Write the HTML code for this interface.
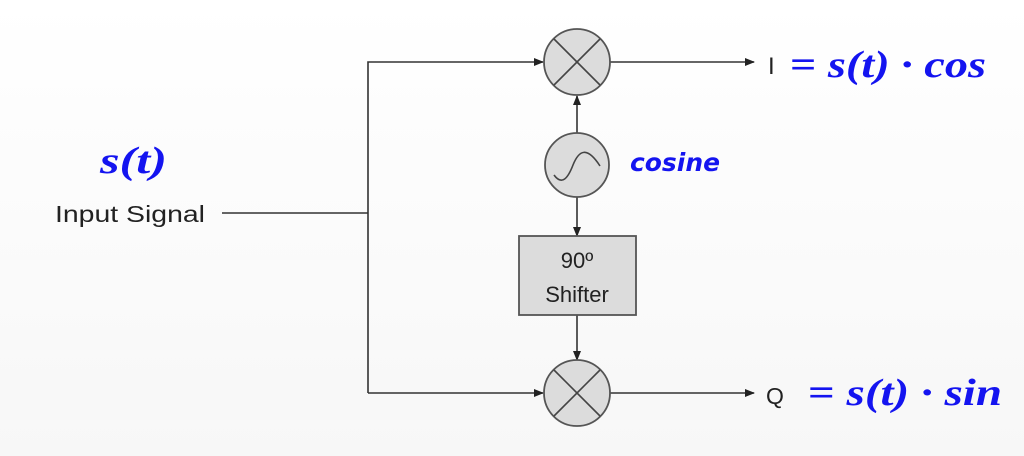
<!DOCTYPE html>
<html><head><meta charset="utf-8"><style>
html,body{margin:0;padding:0;background:#fff;}
svg{display:block}
.m{font-family:"Liberation Serif",serif;font-weight:bold;font-style:italic;fill:#1414f0;}
.l{font-family:"Liberation Sans",sans-serif;fill:#222;}
</style></head><body>
<svg width="1024" height="456" viewBox="0 0 1024 456" xmlns="http://www.w3.org/2000/svg">
<defs><linearGradient id="bg" x1="0" y1="0" x2="0" y2="1"><stop offset="0" stop-color="#fff"/><stop offset="1" stop-color="#f7f7f7"/></linearGradient>
<marker id="a" markerWidth="10" markerHeight="10" refX="9" refY="5" orient="auto" markerUnits="userSpaceOnUse"><path d="M0,1 L10,5 L0,9 Z" fill="#222"/></marker></defs>
<rect width="1024" height="456" fill="url(#bg)"/>
<g stroke="#333" stroke-width="1.6" fill="none">
<line x1="222" y1="213" x2="368" y2="213"/>
<polyline points="368,393 368,62 543,62" marker-end="url(#a)"/>
<line x1="368" y1="393" x2="543" y2="393" marker-end="url(#a)"/>
<line x1="610" y1="62" x2="754" y2="62" marker-end="url(#a)"/>
<line x1="610" y1="393" x2="754" y2="393" marker-end="url(#a)"/>
<line x1="577" y1="133" x2="577" y2="96" marker-end="url(#a)"/>
<line x1="577" y1="197" x2="577" y2="236" marker-end="url(#a)"/>
<line x1="577" y1="315" x2="577" y2="360" marker-end="url(#a)"/>
</g>
<g stroke="#555" stroke-width="1.8" fill="#dcdcdc">
<circle cx="577" cy="62" r="33"/>
<circle cx="577" cy="393" r="33"/>
<circle cx="577" cy="165" r="32"/>
<rect x="519" y="236" width="117" height="79"/>
</g>
<g stroke="#444" stroke-width="1.6" fill="none">
<line x1="554" y1="39" x2="600" y2="85"/><line x1="600" y1="39" x2="554" y2="85"/>
<line x1="554" y1="370" x2="600" y2="416"/><line x1="600" y1="370" x2="554" y2="416"/>
<path d="M554,175 C562,186 568,178 573,165 C579,150 587,146 600,166"/>
</g>
<text x="577" y="268" text-anchor="middle" class="l" font-size="22">90º</text>
<text x="577" y="302" text-anchor="middle" class="l" font-size="22">Shifter</text>
<text x="55" y="222" class="l" font-size="23" textLength="150" lengthAdjust="spacingAndGlyphs">Input Signal</text>
<text x="768" y="74" class="l" font-size="24">I</text>
<text x="766" y="404" class="l" font-size="23">Q</text>
<text x="100" y="173" class="m" font-size="38" textLength="67" lengthAdjust="spacingAndGlyphs">s(t)</text>
<text x="790" y="77" class="m" font-size="38" textLength="196" lengthAdjust="spacingAndGlyphs"><tspan font-style="normal">=</tspan> s(t) · cos</text>
<text x="808" y="405" class="m" font-size="38" textLength="194" lengthAdjust="spacingAndGlyphs"><tspan font-style="normal">=</tspan> s(t) · sin</text>
<text x="630" y="171" font-family="'DejaVu Sans',sans-serif" font-style="italic" font-weight="bold" font-size="25" fill="#1414f0" textLength="90" lengthAdjust="spacingAndGlyphs">cosine</text>
</svg>
</body></html>
